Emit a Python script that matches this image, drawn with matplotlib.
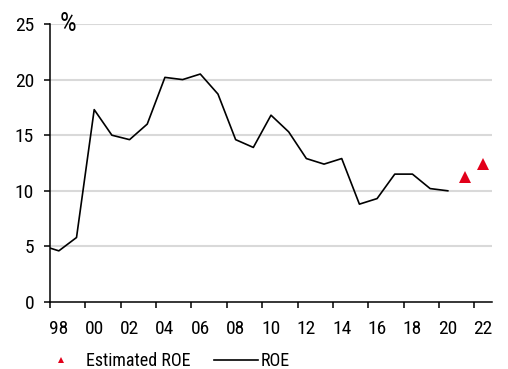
import matplotlib
matplotlib.use("Agg")
import matplotlib.pyplot as plt
from matplotlib.ticker import FixedLocator, FuncFormatter
from matplotlib.lines import Line2D

plt.rcParams['font.family'] = ['Roboto Condensed', 'Liberation Sans', 'DejaVu Sans']

# Annual return on equity (%)
roe_years = [1997, 1998, 1999, 2000, 2001, 2002, 2003, 2004, 2005, 2006, 2007, 2008,
             2009, 2010, 2011, 2012, 2013, 2014, 2015, 2016, 2017, 2018, 2019, 2020]
roe_values = [5.1, 4.6, 5.8, 17.3, 15.0, 14.6, 16.0, 20.2, 20.0, 20.5, 18.7, 14.6,
              13.9, 16.8, 15.3, 12.9, 12.4, 12.9, 8.8, 9.3, 11.5, 11.5, 10.2, 10.0]

# Forecast years
est_years = [2021, 2022]
est_values = [11.2, 12.4]

label_years = list(range(1998, 2023, 2))
y_ticks = [0, 5, 10, 15, 20, 25]

RED = '#E2001A'
GRID = '#d9d9d9'

fig = plt.figure(figsize=(5.08, 3.69), dpi=100)
ax = fig.add_axes([50 / 508, 1 - 302 / 369, 442 / 508, 278 / 369])

ax.set_xlim(1997.5, 2022.5)
ax.set_ylim(0, 25)

for y in y_ticks[1:]:
    ax.axhline(y, color=GRID, lw=1.5, zorder=0)

ax.plot(roe_years, roe_values, color='black', lw=1.2, zorder=3)
ax.plot(est_years, est_values, linestyle='none', marker='^', markersize=9,
        color=RED, markeredgewidth=0, zorder=4, clip_on=False)

for side in ('top', 'right'):
    ax.spines[side].set_visible(False)
for side in ('left', 'bottom'):
    ax.spines[side].set_linewidth(1.1)

ax.set_yticks(y_ticks)
ax.tick_params(axis='y', direction='out', length=4.5, width=1.1, pad=7, labelsize=14)

# Year labels sit in the middle of each category, tick marks on the boundaries
ax.xaxis.set_major_locator(FixedLocator(label_years))
ax.xaxis.set_major_formatter(FuncFormatter(lambda v, p: f"{int(round(v)) % 100:02d}"))
ax.xaxis.set_minor_locator(FixedLocator([y - 0.5 for y in label_years]))
ax.tick_params(axis='x', which='major', length=0, pad=13, labelsize=14)
ax.tick_params(axis='x', which='minor', direction='out', length=4, width=1.1)

ax.text(0.022, 1.0, '%', transform=ax.transAxes, ha='left', va='center', fontsize=19)

handles = [
    Line2D([], [], linestyle='none', marker='^', color=RED, markersize=5, markeredgewidth=0),
    Line2D([], [], color='black', lw=1.2),
]
fig.legend(handles, ['Estimated ROE', 'ROE'], loc='center left',
           bbox_to_anchor=(39 / 508, 1 - 361 / 369), ncol=2, frameon=False,
           fontsize=13, handlelength=2.45, handletextpad=0.15, columnspacing=1.3,
           borderpad=0, borderaxespad=0)

fig.savefig('out.png', dpi=100)
